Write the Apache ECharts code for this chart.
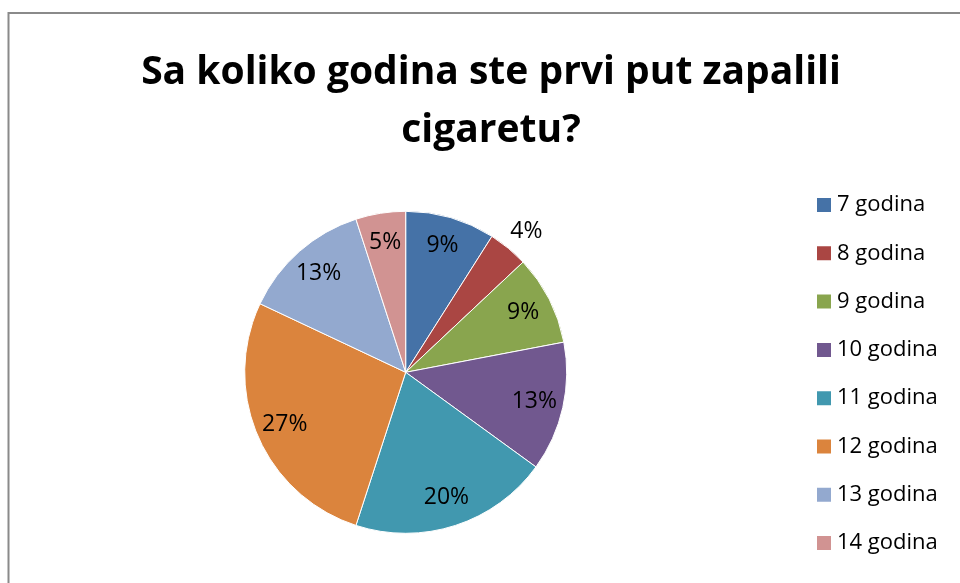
<!DOCTYPE html>
<html>
<head>
<meta charset="utf-8">
<script src="https://cdn.jsdelivr.net/npm/echarts@6/dist/echarts.min.js"></script>
<style>
html,body{margin:0;padding:0;background:#fff;}
#chart{width:960px;height:583px;}
</style>
</head>
<body>
<div id="chart"></div>
<script>
const titleText = 'Sa koliko godina ste prvi put zapalili\ncigaretu?';
const categories = ['7 godina','8 godina','9 godina','10 godina','11 godina','12 godina','13 godina','14 godina'];
const values = [9, 4, 9, 13, 20, 27, 13, 5];
const colors = ['#4572A7','#AA4643','#89A54E','#71588F','#4198AF','#DB843D','#93A9CF','#D19392'];
const outsideLabelNames = ['8 godina'];

const FONT = '"Open Sans"';
const cx = 405.7, cy = 372.3, R = 161;

const chart = echarts.init(document.getElementById('chart'), null, {renderer:'canvas'});

const mainData = categories.map((c,i)=>({name:c, value:values[i]}));
const labelData = categories.map((c,i)=>{
  const item = {name:c, value:values[i]};
  if (outsideLabelNames.includes(c)) {
    item.label = {position:'outside', distanceToLabelLine:-12};
    item.labelLine = {show:false, length:22, length2:0};
  }
  return item;
});

chart.setOption({
  backgroundColor:'#fff',
  color: colors,
  animation:false,
  title:{
    text:titleText,
    left:486, top:39, textAlign:'center',
    textStyle:{fontFamily:FONT, fontWeight:'bold', fontSize:39, lineHeight:58, color:'#000'}
  },
  legend:{
    orient:'vertical', left:810, top:189,
    itemWidth:16, itemHeight:16, itemGap:26.3,
    icon:'rect',
    selectedMode:false,
    data: categories,
    textStyle:{fontFamily:FONT, fontSize:22, lineHeight:22, color:'#000'}
  },
  graphic:[
    {type:'line', shape:{x1:8.5, y1:13, x2:960, y2:13}, style:{stroke:'#8a8a8a', lineWidth:2}, silent:true},
    {type:'line', shape:{x1:8.5, y1:12, x2:8.5, y2:583}, style:{stroke:'#8a8a8a', lineWidth:2}, silent:true}
  ],
  series:[
    {
      type:'pie', center:[cx,cy], radius:[0,R], startAngle:90, clockwise:true,
      data: mainData,
      label:{show:false}, labelLine:{show:false},
      itemStyle:{borderColor:'#fff', borderWidth:1},
      emphasis:{disabled:true}
    },
    {
      type:'pie', center:[cx,cy], radius:[R*0.6,R], startAngle:90, clockwise:true,
      data: labelData, silent:true, legendHoverLink:false,
      itemStyle:{color:'rgba(0,0,0,0)', borderWidth:0},
      label:{show:true, position:'inside', formatter:'{d}%', fontFamily:FONT, fontSize:23, color:'#000'},
      labelLine:{show:false},
      emphasis:{disabled:true}
    }
  ]
});
</script>
</body>
</html>
